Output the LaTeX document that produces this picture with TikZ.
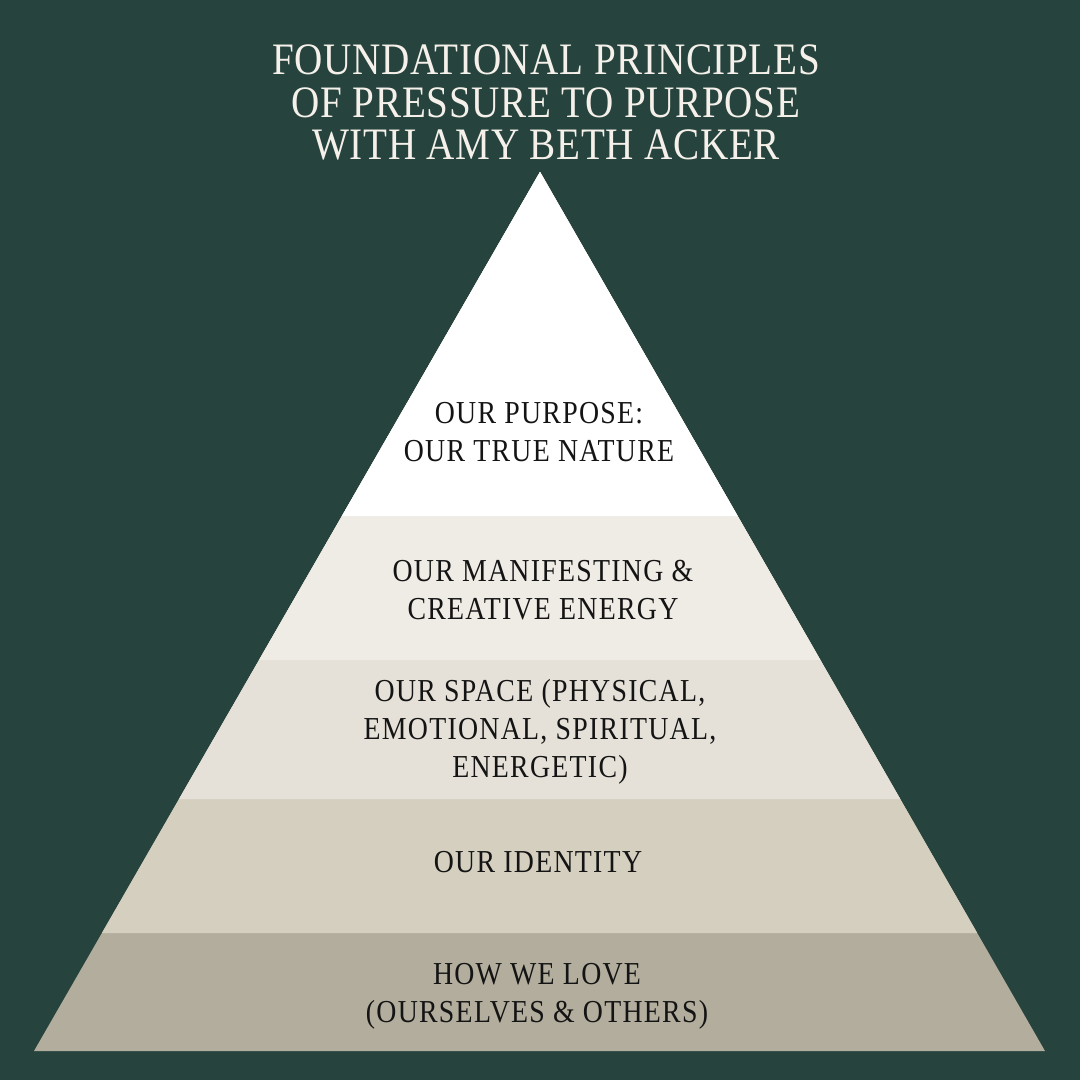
\documentclass[tikz,border=0pt]{standalone}
\usepackage{fontspec}
\setmainfont{Liberation Serif}[FakeStretch=0.87]
\newfontfamily\headingfont{Liberation Serif}[FakeStretch=0.87, LetterSpace=1.5]
\newfontfamily\tierfont{Liberation Serif}[FakeStretch=0.87, LetterSpace=4]
\usetikzlibrary{calc}
\definecolor{bgGreen}{HTML}{26433E}
\definecolor{titleCream}{HTML}{F5F1EA}
\definecolor{tierOne}{HTML}{FFFFFF}
\definecolor{tierTwo}{HTML}{EFEBE5}
\definecolor{tierThree}{HTML}{E5E1D8}
\definecolor{tierFour}{HTML}{D5CFC0}
\definecolor{tierFive}{HTML}{B2AD9D}
\definecolor{labelInk}{HTML}{141414}

\begin{document}
\begin{tikzpicture}[
    x=0.02cm, y=-0.02cm,
    heading/.style={align=center, inner sep=0pt, text=titleCream, font=\headingfont\fontsize{25.6pt}{24.2pt}\selectfont},
    tierlabel/.style={align=center, inner sep=0pt, text=labelInk, font=\tierfont\fontsize{18.2pt}{21.6pt}\selectfont},
]
    % Background
    \fill[bgGreen] (0,0) rectangle (1080,1080);

    % Pyramid corners
    \coordinate (apex) at (540,172);
    \coordinate (bl) at (34,1051);
    \coordinate (br) at (1045,1051);

    % Tier boundaries on both sides
    \coordinate (l1) at ($(apex)!0.3914!(bl)$);
    \coordinate (r1) at ($(apex)!0.3914!(br)$);
    \coordinate (l2) at ($(apex)!0.5552!(bl)$);
    \coordinate (r2) at ($(apex)!0.5552!(br)$);
    \coordinate (l3) at ($(apex)!0.7133!(bl)$);
    \coordinate (r3) at ($(apex)!0.7133!(br)$);
    \coordinate (l4) at ($(apex)!0.8658!(bl)$);
    \coordinate (r4) at ($(apex)!0.8658!(br)$);

    % Tiers, painted from the base upwards
    \fill[tierFive] (apex) -- (br) -- (bl) -- cycle;
    \fill[tierFour] (apex) -- (r4) -- (l4) -- cycle;
    \fill[tierThree] (apex) -- (r3) -- (l3) -- cycle;
    \fill[tierTwo] (apex) -- (r2) -- (l2) -- cycle;
    \fill[tierOne] (apex) -- (r1) -- (l1) -- cycle;

    % Title
    \node[heading] (title) at (546,102.5) {FOUNDATIONAL PRINCIPLES\\OF PRESSURE TO PURPOSE\\WITH AMY BETH ACKER};

    % Tier labels
    \node[tierlabel] (purpose) at (539,432.5) {OUR PURPOSE:\\OUR TRUE NATURE};
    \node[tierlabel] (manifest) at (543,590) {OUR MANIFESTING \&\\CREATIVE ENERGY};
    \node[tierlabel] (space) at (540,731.5) {OUR SPACE (PHYSICAL,\\EMOTIONAL, SPIRITUAL,\\ENERGETIC)};
    \node[tierlabel] (identity) at (538,862) {OUR IDENTITY};
    \node[tierlabel] (love) at (537,996) {HOW WE LOVE\\(OURSELVES \& OTHERS)};
\end{tikzpicture}
\end{document}
